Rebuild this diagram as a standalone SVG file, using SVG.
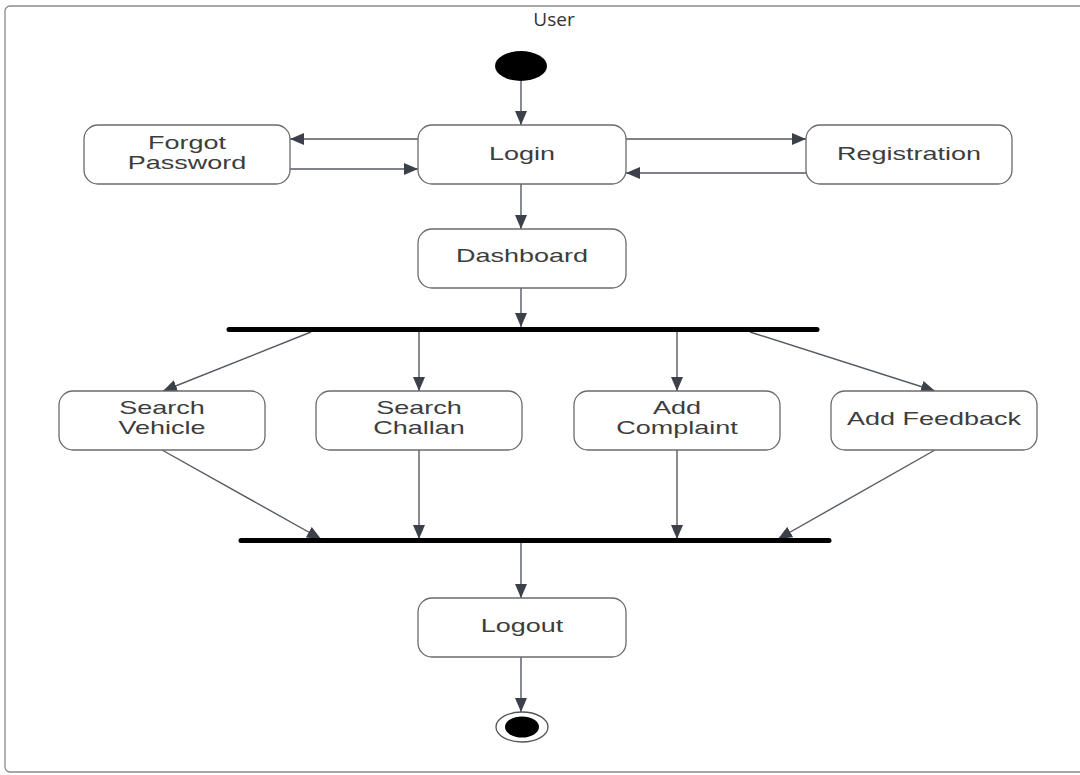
<svg xmlns="http://www.w3.org/2000/svg" width="1080" height="775" viewBox="0 0 1080 775">
<defs>
<style>
.box{fill:#fff;stroke:#6b6b6b;stroke-width:1.3}
.lbl{font-family:"Liberation Sans",Arial,sans-serif;font-size:18px;fill:#3d3d3d;text-anchor:middle}
.ln{stroke:#555a62;stroke-width:1.4;fill:none}
.bar{stroke:#000;stroke-width:5;stroke-linecap:round}
</style>
<marker id="ah" viewBox="0 0 14 12" refX="14" refY="6" markerWidth="14" markerHeight="12" markerUnits="userSpaceOnUse" orient="auto">
<path d="M0,0 L14,6 L0,12 Z" fill="#3b404a"/>
</marker>
</defs>
<rect x="0" y="0" width="1080" height="775" fill="#fff"/>
<rect x="5" y="6" width="1090" height="766" rx="5" fill="#fff" stroke="#8a8a8a" stroke-width="1.3"/>
<text x="554" y="26" style="font-family:'Open Sans','Liberation Sans',sans-serif;font-size:19px;fill:#333;text-anchor:middle">User</text>

<g id="connectors">
<line class="ln" x1="521" y1="81" x2="521" y2="125" marker-end="url(#ah)"/>
<line class="ln" x1="418" y1="139" x2="290" y2="139" marker-end="url(#ah)"/>
<line class="ln" x1="290" y1="169" x2="418" y2="169" marker-end="url(#ah)"/>
<line class="ln" x1="626" y1="139" x2="806" y2="139" marker-end="url(#ah)"/>
<line class="ln" x1="806" y1="173" x2="626" y2="173" marker-end="url(#ah)"/>
<line class="ln" x1="521" y1="184" x2="521" y2="229" marker-end="url(#ah)"/>
<line class="ln" x1="521" y1="288" x2="521" y2="327" marker-end="url(#ah)"/>
<line class="ln" x1="311" y1="332" x2="163" y2="391" marker-end="url(#ah)"/>
<line class="ln" x1="419" y1="332" x2="419" y2="391" marker-end="url(#ah)"/>
<line class="ln" x1="677" y1="332" x2="677" y2="391" marker-end="url(#ah)"/>
<line class="ln" x1="750" y1="332" x2="935" y2="391" marker-end="url(#ah)"/>
<line class="ln" x1="162" y1="450" x2="321" y2="539" marker-end="url(#ah)"/>
<line class="ln" x1="419" y1="450" x2="419" y2="539" marker-end="url(#ah)"/>
<line class="ln" x1="677" y1="450" x2="677" y2="539" marker-end="url(#ah)"/>
<line class="ln" x1="935" y1="450" x2="778" y2="539" marker-end="url(#ah)"/>
<line class="ln" x1="521" y1="543" x2="521" y2="598" marker-end="url(#ah)"/>
<line class="ln" x1="521" y1="657" x2="521" y2="712" marker-end="url(#ah)"/>
</g>

<g id="start"><ellipse cx="521" cy="66" rx="26" ry="15" fill="#000"/></g>

<g id="forgot">
<rect class="box" x="84" y="125" width="206" height="59" rx="14"/>
<text class="lbl" transform="translate(187,149) scale(1.5,1)">Forgot</text>
<text class="lbl" transform="translate(187,169) scale(1.5,1)">Password</text>
</g>
<g id="login">
<rect class="box" x="418" y="125" width="208" height="59" rx="14"/>
<text class="lbl" transform="translate(522,160) scale(1.5,1)">Login</text>
</g>
<g id="registration">
<rect class="box" x="806" y="125" width="206" height="59" rx="14"/>
<text class="lbl" transform="translate(909,160) scale(1.5,1)">Registration</text>
</g>
<g id="dashboard">
<rect class="box" x="418" y="229" width="208" height="59" rx="14"/>
<text class="lbl" transform="translate(522,262) scale(1.5,1)">Dashboard</text>
</g>
<g id="fork"><line class="bar" x1="229" y1="329.5" x2="817" y2="329.5"/></g>
<g id="searchVehicle">
<rect class="box" x="59" y="391" width="206" height="59" rx="14"/>
<text class="lbl" transform="translate(162,414) scale(1.5,1)">Search</text>
<text class="lbl" transform="translate(162,434) scale(1.5,1)">Vehicle</text>
</g>
<g id="searchChallan">
<rect class="box" x="316" y="391" width="206" height="59" rx="14"/>
<text class="lbl" transform="translate(419,414) scale(1.5,1)">Search</text>
<text class="lbl" transform="translate(419,434) scale(1.5,1)">Challan</text>
</g>
<g id="addComplaint">
<rect class="box" x="574" y="391" width="206" height="59" rx="14"/>
<text class="lbl" transform="translate(677,414) scale(1.5,1)">Add</text>
<text class="lbl" transform="translate(677,434) scale(1.5,1)">Complaint</text>
</g>
<g id="addFeedback">
<rect class="box" x="831" y="391" width="206" height="59" rx="14"/>
<text class="lbl" transform="translate(934,425) scale(1.5,1)">Add Feedback</text>
</g>
<g id="join"><line class="bar" x1="241" y1="540.5" x2="829" y2="540.5"/></g>
<g id="logout">
<rect class="box" x="418" y="598" width="208" height="59" rx="14"/>
<text class="lbl" transform="translate(522,632) scale(1.5,1)">Logout</text>
</g>
<g id="end">
<ellipse cx="522" cy="727" rx="26" ry="15" fill="#fff" stroke="#555" stroke-width="1.3"/>
<ellipse cx="522" cy="727" rx="17" ry="10.5" fill="#000"/>
</g>
</svg>
